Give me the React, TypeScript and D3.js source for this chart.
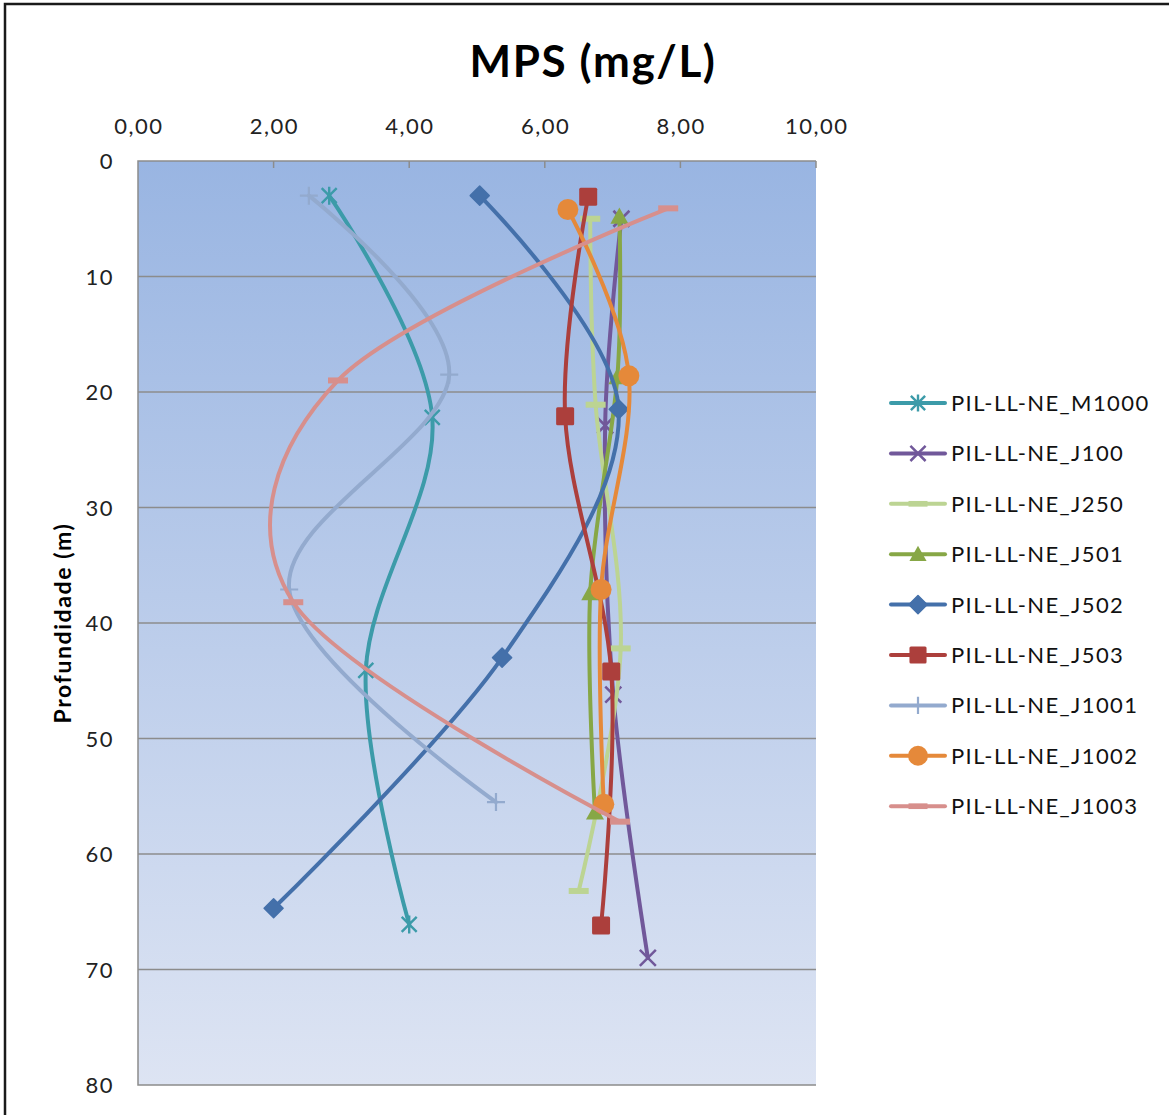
import React, { useEffect, useRef } from "react";
import * as d3 from "d3";

const W = 1169;
const H = 1115;

const seriesNames = [
  "PIL-LL-NE_M1000",
  "PIL-LL-NE_J100",
  "PIL-LL-NE_J250",
  "PIL-LL-NE_J501",
  "PIL-LL-NE_J502",
  "PIL-LL-NE_J503",
  "PIL-LL-NE_J1001",
  "PIL-LL-NE_J1002",
  "PIL-LL-NE_J1003",
];
const seriesColors = ["#3C9BA9", "#71589A", "#BCD493", "#87A746", "#4470AA", "#AC3F3C", "#93AACE", "#E5893A", "#D78F8C"];
const seriesMarkers = ["asterisk", "x", "dash", "triangle", "diamond", "square", "plus", "circle", "dash"];

const m1000X = [2.82, 4.34, 3.36, 4.0];
const m1000D = [3.0, 22.2, 44.1, 66.1];
const j100X = [7.13, 6.89, 7.01, 7.52];
const j100D = [5.0, 22.9, 46.2, 69.0];
const j250X = [6.67, 6.75, 7.12, 6.5];
const j250D = [5.0, 21.1, 42.2, 63.2];
const j501X = [7.1, 7.07, 6.67, 6.74];
const j501D = [4.8, 18.7, 37.4, 56.4];
const j502X = [5.04, 7.09, 5.37, 2.0];
const j502D = [3.0, 21.5, 43.0, 64.7];
const j503X = [6.64, 6.3, 6.98, 6.83];
const j503D = [3.1, 22.1, 44.2, 66.2];
const j1001X = [2.52, 4.59, 2.23, 5.28];
const j1001D = [3.0, 18.5, 37.1, 55.5];
const j1002X = [6.34, 7.24, 6.83, 6.87];
const j1002D = [4.2, 18.6, 37.1, 55.7];
const j1003X = [7.82, 2.95, 2.29, 7.11];
const j1003D = [4.1, 19.0, 38.2, 57.2];

const allX = [m1000X, j100X, j250X, j501X, j502X, j503X, j1001X, j1002X, j1003X];
const allD = [m1000D, j100D, j250D, j501D, j502D, j503D, j1001D, j1002D, j1003D];

const xTicks = [0, 2, 4, 6, 8, 10];
const yTicks = [0, 10, 20, 30, 40, 50, 60, 70, 80];

const title = "MPS (mg/L)";
const yTitle = "Profundidade (m)";

const FONT = "Lato, 'Open Sans', sans-serif";

function drawMarker(g: any, type: string, x: number, y: number, color: string, s: number) {
  if (type === "asterisk") {
    const a = 7.5 * s, b = 9 * s;
    g.append("path").attr("d", `M${x - a},${y - a}L${x + a},${y + a}M${x - a},${y + a}L${x + a},${y - a}M${x},${y - b}L${x},${y + b}`)
      .attr("stroke", color).attr("stroke-width", 2.4).attr("fill", "none");
  } else if (type === "x") {
    const a = 8 * s;
    g.append("path").attr("d", `M${x - a},${y - a}L${x + a},${y + a}M${x - a},${y + a}L${x + a},${y - a}`)
      .attr("stroke", color).attr("stroke-width", 2.5).attr("fill", "none");
  } else if (type === "plus") {
    const a = 9 * s;
    g.append("path").attr("d", `M${x - a},${y}L${x + a},${y}M${x},${y - a}L${x},${y + a}`)
      .attr("stroke", color).attr("stroke-width", 2.2).attr("fill", "none");
  } else if (type === "dash") {
    g.append("rect").attr("x", x - 10 * s).attr("y", y - 3 * s).attr("width", 20 * s).attr("height", 6 * s).attr("fill", color);
  } else if (type === "square") {
    const a = 9 * s;
    g.append("rect").attr("x", x - a).attr("y", y - a).attr("width", 2 * a).attr("height", 2 * a).attr("rx", 1.5).attr("fill", color);
  } else if (type === "circle") {
    g.append("circle").attr("cx", x).attr("cy", y).attr("r", 10.5 * s).attr("fill", color);
  } else if (type === "diamond") {
    const a = 9.5 * s;
    g.append("path").attr("d", `M${x},${y - a}L${x + a},${y}L${x},${y + a}L${x - a},${y}Z`).attr("fill", color).attr("stroke", color).attr("stroke-width", 1.5).attr("stroke-linejoin", "round");
  } else if (type === "triangle") {
    const a = 9 * s;
    g.append("path").attr("d", `M${x},${y - a}L${x + a},${y + a * 0.8}L${x - a},${y + a * 0.8}Z`).attr("fill", color);
  }
}

export default function App() {
  const ref = useRef<SVGSVGElement>(null);

  useEffect(() => {
    const svg = d3.select(ref.current);
    svg.selectAll("*").remove();

    const left = 138, right = 816, top = 161, bottom = 1085;
    const x = d3.scaleLinear().domain([0, 10]).range([left, right]);
    const y = d3.scaleLinear().domain([0, 80]).range([top, bottom]);

    svg.append("rect").attr("x", 0).attr("y", 0).attr("width", W).attr("height", H).attr("fill", "#ffffff");
    svg.append("path").attr("d", `M5,${H}L5,4L${W},4`).attr("stroke", "#1a1a1a").attr("stroke-width", 2.5).attr("fill", "none");

    const defs = svg.append("defs");
    const grad = defs.append("linearGradient").attr("id", "bg").attr("x1", 0).attr("y1", 0).attr("x2", 0).attr("y2", 1);
    grad.append("stop").attr("offset", "0%").attr("stop-color", "#99B5E2");
    grad.append("stop").attr("offset", "100%").attr("stop-color", "#DDE4F3");
    defs.append("clipPath").attr("id", "clip").append("rect").attr("x", left).attr("y", top).attr("width", right - left).attr("height", bottom - top);

    svg.append("rect").attr("x", left).attr("y", top).attr("width", right - left).attr("height", bottom - top).attr("fill", "url(#bg)");

    svg.append("g").selectAll("line").data(yTicks.slice(1, -1)).join("line")
      .attr("x1", left).attr("x2", right).attr("y1", (d) => y(d)).attr("y2", (d) => y(d))
      .attr("stroke", "#8C8C8C").attr("stroke-width", 1.5);

    svg.append("path").attr("d", `M${right},${top}L${left},${top}L${left},${bottom}L${right},${bottom}`)
      .attr("stroke", "#8C8C8C").attr("stroke-width", 1.5).attr("fill", "none");
    svg.append("g").selectAll("line").data(xTicks.slice(1)).join("line")
      .attr("x1", (d) => x(d)).attr("x2", (d) => x(d)).attr("y1", top).attr("y2", top + 7)
      .attr("stroke", "#8C8C8C").attr("stroke-width", 1.5);

    svg.append("g").selectAll("text").data(xTicks).join("text")
      .attr("x", (d) => x(d) + 0.8).attr("y", 134).attr("text-anchor", "middle")
      .attr("font-family", FONT).attr("font-size", 22).attr("letter-spacing", 1.5).attr("fill", "#222")
      .text((d) => d3.format(".2f")(d).replace(".", ","));
    svg.append("g").selectAll("text").data(yTicks).join("text")
      .attr("x", 114).attr("y", (d) => y(d) + 8).attr("text-anchor", "end")
      .attr("font-family", FONT).attr("font-size", 22).attr("letter-spacing", 1.5).attr("fill", "#222")
      .text((d) => String(d));

    svg.append("text").attr("x", 593).attr("y", 77).attr("text-anchor", "middle")
      .attr("font-family", FONT).attr("font-weight", "bold").attr("font-size", 44).attr("letter-spacing", 1.6).attr("fill", "#000").text(title);

    svg.append("text").attr("transform", `translate(71,623) rotate(-90)`).attr("text-anchor", "middle")
      .attr("font-family", FONT).attr("font-weight", "bold").attr("font-size", 23).attr("letter-spacing", 1.6).attr("fill", "#000").text(yTitle);

    const line = d3.line<[number, number]>().x((p) => x(p[0])).y((p) => y(p[1])).curve(d3.curveCardinal.tension(0));

    const plot = svg.append("g").attr("clip-path", "url(#clip)");
    seriesNames.forEach((name, i) => {
      const pts: [number, number][] = allX[i].map((v, k) => [v, allD[i][k]]);
      const g = plot.append("g");
      g.append("path").attr("d", line(pts)).attr("fill", "none").attr("stroke", seriesColors[i])
        .attr("stroke-width", 4).attr("stroke-linecap", "round").attr("stroke-linejoin", "round");
      pts.forEach((p) => drawMarker(g, seriesMarkers[i], x(p[0]), y(p[1]), seriesColors[i], 1));
    });

    const lg = svg.append("g");
    seriesNames.forEach((name, i) => {
      const ly = 403 + i * 50.4;
      lg.append("line").attr("x1", 891).attr("x2", 945).attr("y1", ly).attr("y2", ly)
        .attr("stroke", seriesColors[i]).attr("stroke-width", 4).attr("stroke-linecap", "round");
      drawMarker(lg, seriesMarkers[i], 918, ly, seriesColors[i], 0.95);
      lg.append("text").attr("x", 951).attr("y", ly + 8).attr("font-family", FONT).attr("font-size", 22)
        .attr("letter-spacing", 1.4).attr("fill", "#111").text(name);
    });
  }, []);

  return (
    <svg ref={ref} width={W} height={H} style={{ position: "absolute", left: 0, top: 0 }} />
  );
}
